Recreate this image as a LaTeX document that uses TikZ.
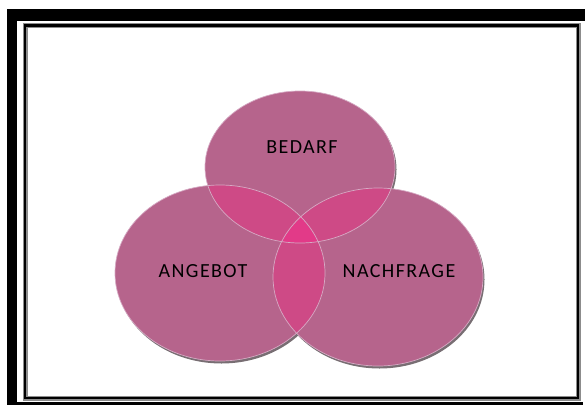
\documentclass[tikz,border=0pt]{standalone}
\usepackage{fontspec}
\newfontfamily\vennfont{Carlito}[LetterSpace=7]
\usepackage{tikz}

\definecolor{vennbase}{RGB}{182,100,140}
\definecolor{vennpair}{RGB}{206,74,134}
\definecolor{venncore}{RGB}{226,58,136}
\definecolor{vennrim}{RGB}{214,170,196}
\definecolor{vennshadow}{RGB}{120,110,115}

\def\bedarfpath{(300,167) ellipse [x radius=95, y radius=76]}
\def\angebotpath{(220,273) ellipse [x radius=105, y radius=88]}
\def\nachfragepath{(378,277) ellipse [x radius=105, y radius=89]}

\begin{document}
\begin{tikzpicture}[x=1pt, y=-1pt,
  base/.style={fill=vennbase},
  pair/.style={fill=vennpair},
  core/.style={fill=venncore},
  rim/.style={draw=vennrim, line width=0.7pt},
  halo/.style={draw=black!45, line width=5pt},
  every node/.append style={font=\vennfont\fontsize{20}{23}\selectfont, text=black}]
\useasboundingbox (0,0) rectangle (585,407);
% frame
\fill[black] (7,9) rectangle (585,21);
\fill[black] (7,9) rectangle (17,405);
\fill[black] (7,402) rectangle (583,405);
\draw[halo] (25,25.5) rectangle (578,398);
\draw[black, line width=2.5pt] (25,25.5) rectangle (578,398);
% shadows
\begin{scope}[shift={(1.5,2.5)}]
  \fill[vennshadow] \bedarfpath;
  \fill[vennshadow] \angebotpath;
  \fill[vennshadow] \nachfragepath;
\end{scope}
\fill[base] \bedarfpath;
\fill[base] \angebotpath;
\fill[base] \nachfragepath;
% overlaps
\begin{scope}
  \clip \angebotpath;
  \fill[pair] \bedarfpath;
  \fill[pair] \nachfragepath;
\end{scope}
\begin{scope}
  \clip \bedarfpath;
  \fill[pair] \nachfragepath;
\end{scope}
\begin{scope}
  \clip \angebotpath;
  \clip \bedarfpath;
  \fill[core] \nachfragepath;
\end{scope}
\draw[rim] \bedarfpath;
\draw[rim] \angebotpath;
\draw[rim] \nachfragepath;

\node (bedarf) at (302,147) {BEDARF};
\node (angebot) at (203,271) {ANGEBOT};
\node (nachfrage) at (399,271) {NACHFRAGE};
\end{tikzpicture}
\end{document}
